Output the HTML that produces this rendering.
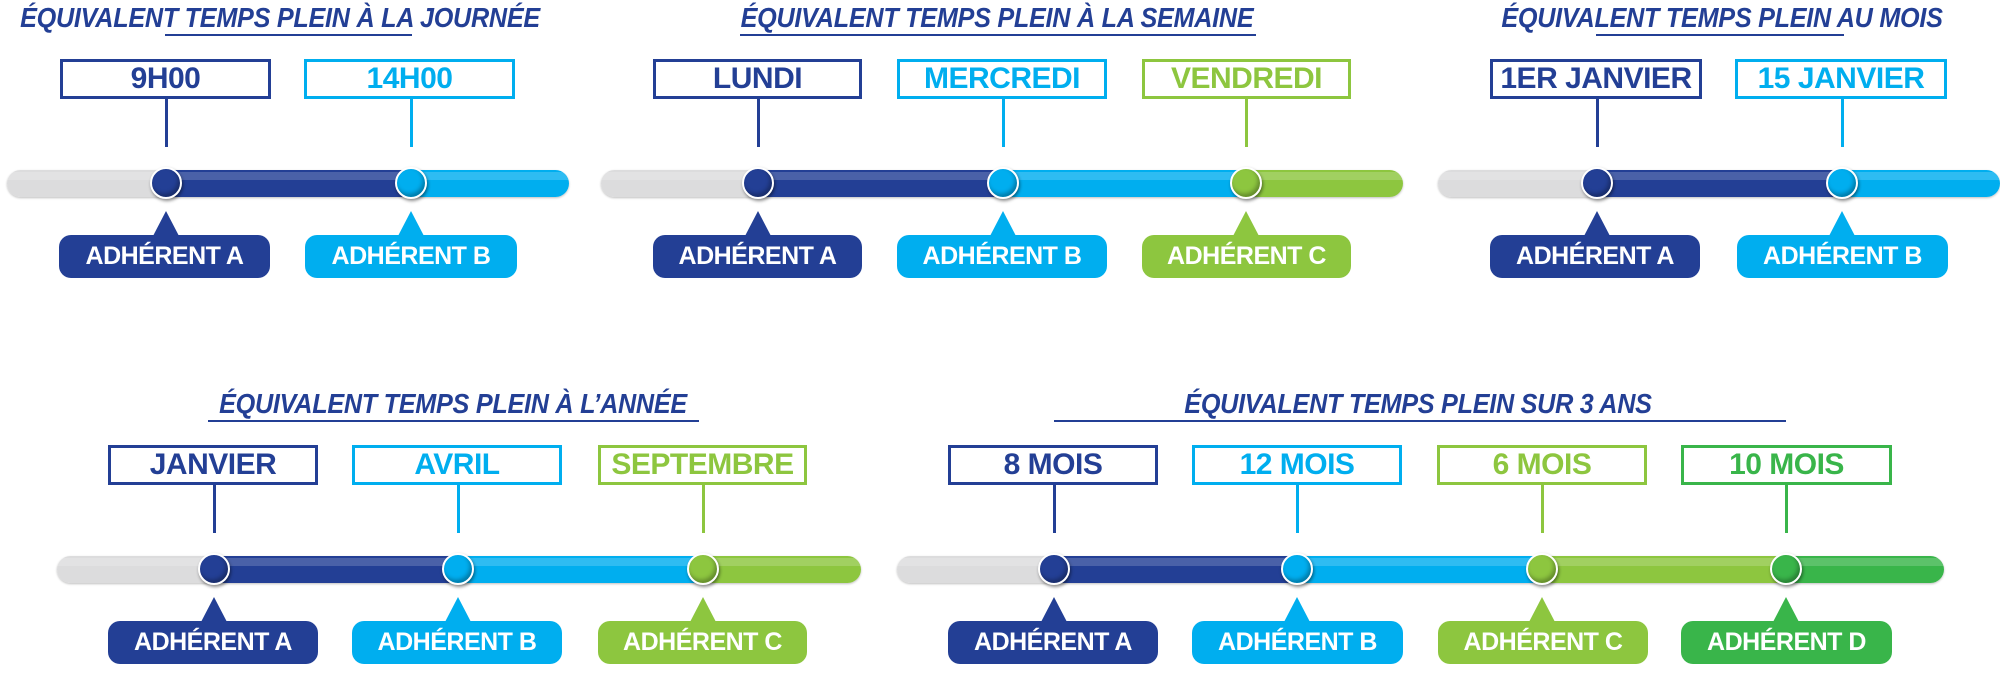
<!DOCTYPE html>
<html><head><meta charset="utf-8"><style>
body{margin:0;width:2000px;height:681px;background:#fff;position:relative;overflow:hidden;font-family:"Liberation Sans",sans-serif}
.r{position:absolute;left:0;width:2000px;height:300px}
.t{position:absolute;top:0;width:800px;text-align:center;font:italic bold 28px/36px "Liberation Sans",sans-serif;color:#233f95;transform:scaleX(.9);letter-spacing:-0.3px}
.u{position:absolute;top:34px;height:2px;background:#233f95}
.b{position:absolute;top:59px;height:40px;border:3px solid;box-sizing:border-box;background:#fff;font:bold 30px/34px "Liberation Sans",sans-serif;text-align:center;letter-spacing:-0.5px;white-space:nowrap}
.s{position:absolute;top:99px;height:48px;width:3px;margin-left:-1px}
.tr{position:absolute;top:170px;height:27px;border-radius:14px;overflow:hidden;box-shadow:0 1px 2px rgba(0,0,0,.25)}
.g{position:absolute;top:0;height:27px}
.g::after{content:"";position:absolute;left:0;right:0;top:2px;height:8px;background:rgba(255,255,255,.18)}
.k{position:absolute;top:167px;width:28px;height:28px;margin-left:-16px;border-radius:50%;border:2px solid #fff;box-shadow:1px 2px 3px rgba(0,0,0,.45),inset -2px -3px 4px rgba(0,0,0,.3)}
.c1{color:#233f95;border-color:#233f95}.c2{color:#00aeef;border-color:#00aeef}.c3{color:#8dc63f;border-color:#8dc63f}.c4{color:#39b54a;border-color:#39b54a}
.tri{position:absolute;top:211px;width:0;height:0;margin-left:-13px;border-left:13px solid transparent;border-right:13px solid transparent;border-bottom:25px solid;border-top:0}
.tri.c1{border-color:transparent transparent #233f95}.tri.c2{border-color:transparent transparent #00aeef}.tri.c3{border-color:transparent transparent #8dc63f}.tri.c4{border-color:transparent transparent #39b54a}
.p{position:absolute;top:235px;height:43px;border-radius:12px;color:#fff;font:bold 25px/43px "Liberation Sans",sans-serif;text-align:center;letter-spacing:-0.5px;white-space:nowrap}
.f0{background:#dcdcdd}.f1{background:#233f95}.f2{background:#00aeef}.f3{background:#8dc63f}.f4{background:#39b54a}
</style></head><body>

<div class="r" style="top:0">
<div class="t" style="left:-120px">ÉQUIVALENT TEMPS PLEIN À LA JOURNÉE</div>
<div class="u" style="left:165px;width:247px"></div>
<div class="b c1" style="left:60px;width:211px">9H00</div>
<div class="b c2" style="left:304px;width:211px">14H00</div>
<div class="s f1" style="left:166px"></div><div class="s f2" style="left:411px"></div>
<div class="tr" style="left:7px;width:562px"><div class="g f0" style="left:0;width:160px"></div><div class="g f1" style="left:159px;width:246px"></div><div class="g f2" style="left:404px;width:160px"></div></div>
<div class="k f1" style="left:166px"></div><div class="k f2" style="left:411px"></div>
<div class="tri c1" style="left:166px"></div><div class="tri c2" style="left:411px"></div>
<div class="p f1" style="left:59px;width:211px">ADHÉRENT A</div>
<div class="p f2" style="left:305px;width:212px">ADHÉRENT B</div>

<div class="t" style="left:597px">ÉQUIVALENT TEMPS PLEIN À LA SEMAINE</div>
<div class="u" style="left:740px;width:516px"></div>
<div class="b c1" style="left:653px;width:209px">LUNDI</div>
<div class="b c2" style="left:897px;width:210px">MERCREDI</div>
<div class="b c3" style="left:1142px;width:209px">VENDREDI</div>
<div class="s f1" style="left:758px"></div><div class="s f2" style="left:1003px"></div><div class="s f3" style="left:1246px"></div>
<div class="tr" style="left:601px;width:802px"><div class="g f0" style="left:0;width:158px"></div><div class="g f1" style="left:157px;width:246px"></div><div class="g f2" style="left:402px;width:244px"></div><div class="g f3" style="left:645px;width:160px"></div></div>
<div class="k f1" style="left:758px"></div><div class="k f2" style="left:1003px"></div><div class="k f3" style="left:1246px"></div>
<div class="tri c1" style="left:758px"></div><div class="tri c2" style="left:1003px"></div><div class="tri c3" style="left:1246px"></div>
<div class="p f1" style="left:653px;width:209px">ADHÉRENT A</div>
<div class="p f2" style="left:897px;width:210px">ADHÉRENT B</div>
<div class="p f3" style="left:1142px;width:209px">ADHÉRENT C</div>

<div class="t" style="left:1322px">ÉQUIVALENT TEMPS PLEIN AU MOIS</div>
<div class="u" style="left:1596px;width:248px"></div>
<div class="b c1" style="left:1490px;width:212px">1ER JANVIER</div>
<div class="b c2" style="left:1735px;width:212px">15 JANVIER</div>
<div class="s f1" style="left:1597px"></div><div class="s f2" style="left:1842px"></div>
<div class="tr" style="left:1438px;width:562px"><div class="g f0" style="left:0;width:160px"></div><div class="g f1" style="left:159px;width:246px"></div><div class="g f2" style="left:404px;width:160px"></div></div>
<div class="k f1" style="left:1597px"></div><div class="k f2" style="left:1842px"></div>
<div class="tri c1" style="left:1597px"></div><div class="tri c2" style="left:1842px"></div>
<div class="p f1" style="left:1490px;width:210px">ADHÉRENT A</div>
<div class="p f2" style="left:1737px;width:211px">ADHÉRENT B</div>
</div>

<div class="r" style="top:386px">
<div class="t" style="left:53px">ÉQUIVALENT TEMPS PLEIN À L’ANNÉE</div>
<div class="u" style="left:208px;width:491px"></div>
<div class="b c1" style="left:108px;width:210px">JANVIER</div>
<div class="b c2" style="left:352px;width:210px">AVRIL</div>
<div class="b c3" style="left:598px;width:209px">SEPTEMBRE</div>
<div class="s f1" style="left:214px"></div><div class="s f2" style="left:458px"></div><div class="s f3" style="left:703px"></div>
<div class="tr" style="left:57px;width:804px"><div class="g f0" style="left:0;width:158px"></div><div class="g f1" style="left:157px;width:245px"></div><div class="g f2" style="left:401px;width:246px"></div><div class="g f3" style="left:646px;width:160px"></div></div>
<div class="k f1" style="left:214px"></div><div class="k f2" style="left:458px"></div><div class="k f3" style="left:703px"></div>
<div class="tri c1" style="left:214px"></div><div class="tri c2" style="left:458px"></div><div class="tri c3" style="left:703px"></div>
<div class="p f1" style="left:108px;width:210px">ADHÉRENT A</div>
<div class="p f2" style="left:352px;width:210px">ADHÉRENT B</div>
<div class="p f3" style="left:598px;width:209px">ADHÉRENT C</div>

<div class="t" style="left:1018px">ÉQUIVALENT TEMPS PLEIN SUR 3 ANS</div>
<div class="u" style="left:1054px;width:732px"></div>
<div class="b c1" style="left:948px;width:210px">8 MOIS</div>
<div class="b c2" style="left:1192px;width:210px">12 MOIS</div>
<div class="b c3" style="left:1437px;width:210px">6 MOIS</div>
<div class="b c4" style="left:1681px;width:211px">10 MOIS</div>
<div class="s f1" style="left:1054px"></div><div class="s f2" style="left:1297px"></div><div class="s f3" style="left:1542px"></div><div class="s f4" style="left:1786px"></div>
<div class="tr" style="left:897px;width:1047px"><div class="g f0" style="left:0;width:158px"></div><div class="g f1" style="left:157px;width:244px"></div><div class="g f2" style="left:400px;width:246px"></div><div class="g f3" style="left:645px;width:245px"></div><div class="g f4" style="left:889px;width:160px"></div></div>
<div class="k f1" style="left:1054px"></div><div class="k f2" style="left:1297px"></div><div class="k f3" style="left:1542px"></div><div class="k f4" style="left:1786px"></div>
<div class="tri c1" style="left:1054px"></div><div class="tri c2" style="left:1297px"></div><div class="tri c3" style="left:1542px"></div><div class="tri c4" style="left:1786px"></div>
<div class="p f1" style="left:948px;width:210px">ADHÉRENT A</div>
<div class="p f2" style="left:1192px;width:211px">ADHÉRENT B</div>
<div class="p f3" style="left:1438px;width:210px">ADHÉRENT C</div>
<div class="p f4" style="left:1681px;width:211px">ADHÉRENT D</div>
</div>
</body></html>
